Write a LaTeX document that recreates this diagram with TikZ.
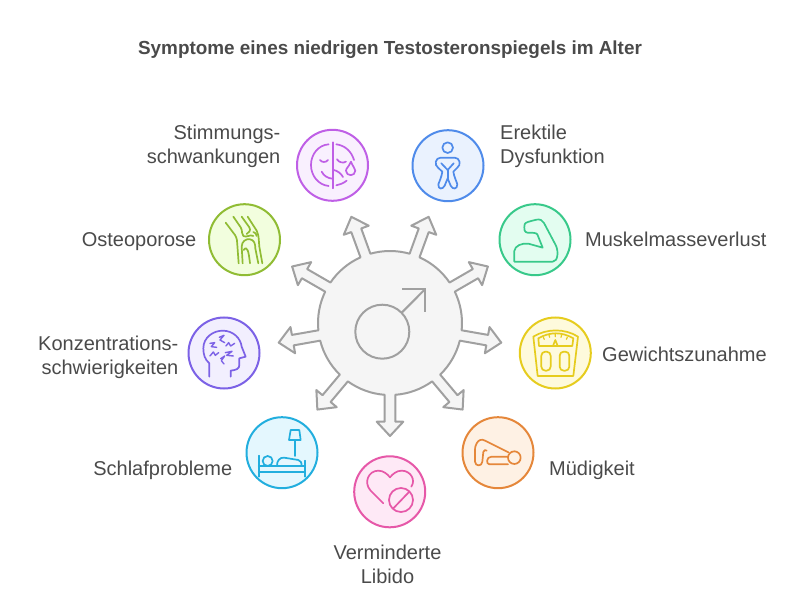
\documentclass[tikz,border=0pt]{standalone}
\usepackage{fontspec}
\setmainfont{Liberation Sans}
\definecolor{txt}{HTML}{4A4A4A}
\definecolor{burstline}{HTML}{A0A0A0}
\definecolor{burstfill}{HTML}{F5F5F5}
\definecolor{cPur}{HTML}{BF5FE6}\definecolor{fPur}{HTML}{F9F0FE}
\definecolor{cBlu}{HTML}{4F8BEA}\definecolor{fBlu}{HTML}{EAF2FE}
\definecolor{cGre}{HTML}{38C98A}\definecolor{fGre}{HTML}{E3FDF0}
\definecolor{cYel}{HTML}{E6CC1E}\definecolor{fYel}{HTML}{FEFADC}
\definecolor{cOra}{HTML}{E5873A}\definecolor{fOra}{HTML}{FEF1E4}
\definecolor{cPin}{HTML}{E658A8}\definecolor{fPin}{HTML}{FEE9F6}
\definecolor{cCya}{HTML}{22AEDE}\definecolor{fCya}{HTML}{E4F7FE}
\definecolor{cVio}{HTML}{7C62E6}\definecolor{fVio}{HTML}{F2EFFE}
\definecolor{cLim}{HTML}{90BC34}\definecolor{fLim}{HTML}{F2FEDE}
\tikzset{
  badge/.style n args={2}{circle,draw=#1,fill=#2,line width=2pt,minimum size=71pt,inner sep=0pt},
  lab/.style={inner sep=0pt,text=txt,font=\fontsize{20}{24}\selectfont},
  ico/.style={line width=1.7pt,line cap=round,line join=round,draw=#1,fill=none},
  burst/.style={draw=burstline,fill=burstfill,line width=2pt,line join=round},
  zoomed/.style 2 args={shift={(#1,#2)},x=0.3333pt,y=-0.3333pt}
}
\begin{document}
\begin{tikzpicture}[x=1pt,y=-1pt]
\useasboundingbox (0,0) rectangle (804,615);
\node[inner sep=0pt,text=txt,font=\fontsize{18.9}{22}\selectfont\bfseries] (title) at (390,49.5) {Symptome eines niedrigen Testosteronspiegels im Alter};

% starburst
\begin{scope}[shift={(390,323)}]
\draw[burst] (85.8:72)
 \foreach \a in {90,130,170,210,250,290,330,370,410} {
   -- (\a-3.07:98.84) -- (\a-7.67:99.6) -- (\a:113) -- (\a+7.67:99.6) -- (\a+3.07:98.84) -- (\a+4.2:72)
   arc[start angle=\a+4.2,end angle=\a+35.8,radius=72]
 } -- cycle;
\end{scope}
% male symbol
\draw[draw=burstline,line width=2pt] (382.3,331.7) circle[radius=27];
\draw[draw=burstline,line width=2pt] (401.7,312.7) -- (425,289.3);
\draw[draw=burstline,line width=2pt,line join=miter] (402.3,289.3) -- (425,289.3) -- (425,311.7);

% badges
\node[badge={cPur}{fPur}] (n1) at (332.5,165.3) {};
\node[badge={cBlu}{fBlu}] (n2) at (448,165.7) {};
\node[badge={cLim}{fLim}] (n3) at (244.5,239.7) {};
\node[badge={cGre}{fGre}] (n4) at (535,239.7) {};
\node[badge={cVio}{fVio}] (n5) at (224,353) {};
\node[badge={cYel}{fYel}] (n6) at (555.3,353) {};
\node[badge={cCya}{fCya}] (n7) at (282,452.7) {};
\node[badge={cOra}{fOra}] (n8) at (498,452.7) {};
\node[badge={cPin}{fPin}] (n9) at (389.7,491.8) {};

% labels
\node[lab,align=right,anchor=east] (l1) at (280.5,146) {Stimmungs-\\schwankungen};
\node[lab,align=left,anchor=west] (l2) at (500,146) {Erektile\\Dysfunktion};
\node[lab,anchor=base east] (l3) at (196.5,246.5) {Osteoporose};
\node[lab,anchor=base west] (l4) at (585,246.5) {Muskelmasseverlust};
\node[lab,align=right,anchor=east] (l5) at (178.5,357) {Konzentrations-\\schwierigkeiten};
\node[lab,anchor=base west] (l6) at (602,361.5) {Gewichtszunahme};
\node[lab,anchor=base east] (l7) at (232.5,475) {Schlafprobleme};
\node[lab,anchor=base west] (l8) at (549,475) {Müdigkeit};
\node[lab,align=center] (l9) at (387.5,564.5) {Verminderte\\Libido};

% mood icon
\begin{scope}[zoomed={200}{110}]
\draw[ico=cPur] (398,97) -- (398,235);
\draw[ico=cPur] (386,103) .. controls (355,105) and (333,133) .. (333,165) .. controls (333,197) and (355,225) .. (386,228);
\draw[ico=cPur] (409,103) .. controls (435,106) and (455,125) .. (462,150);
\draw[ico=cPur] (440,212) .. controls (430,220) and (420,224) .. (409,226);
\draw[ico=cPur] (360,150) .. controls (366,158) and (378,158) .. (384,150);
\draw[ico=cPur] (411,148) .. controls (417,158) and (430,160) .. (438,155);
\draw[ico=cPur] (365,185) .. controls (372,198) and (382,204) .. (396,206);
\draw[ico=cPur] (401,180) .. controls (412,182) and (423,190) .. (429,201);
\draw[ico=cPur] (453,155) .. controls (447,170) and (438,175) .. (438,182) .. controls (438,200) and (466,200) .. (466,182) .. controls (466,175) and (458,170) .. (453,155);
\end{scope}

% knee icon
\begin{scope}[zoomed={200}{110}]
\draw[ico=cLim] (77,338) -- (105,375) .. controls (111,385) and (112,395) .. (112,405) -- (116,460);
\draw[ico=cLim] (100,320) -- (122,352) .. controls (130,365) and (122,372) .. (130,378) .. controls (140,384) and (150,372) .. (160,378);
\draw[ico=cLim] (125,320) -- (148,352) .. controls (154,362) and (146,368) .. (140,372);
\draw[ico=cLim] (143,320) -- (170,362) .. controls (178,378) and (176,395) .. (178,410) -- (187,460);
\draw[ico=cLim] (160,366) .. controls (166,368) and (170,372) .. (170,378);
\draw[ico=cLim] (128,460) -- (125,410) .. controls (125,395) and (138,385) .. (150,388) .. controls (162,390) and (166,400) .. (166,415) -- (175,460);
\draw[ico=cLim] (131,420) .. controls (142,405) and (146,425) .. (150,460);
\end{scope}

% person icon
\begin{scope}[zoomed={400}{115}]
\draw[ico=cBlu] (143,98) circle[radius=16];
\draw[ico=cBlu] (122,128) -- (164,128) .. controls (180,128) and (184,150) .. (172,158) -- (160,170) .. controls (162,185) and (170,200) .. (172,208) .. controls (172,224) and (158,224) .. (152,212) -- (143,190) -- (134,212) .. controls (128,224) and (114,224) .. (115,208) .. controls (118,200) and (125,185) .. (127,170) -- (114,158) .. controls (102,150) and (106,128) .. cycle;
\draw[ico=cBlu] (124,145) -- (143,165) -- (161,145);
\draw[ico=cBlu] (143,165) -- (143,190);
\end{scope}

% muscle icon
\begin{scope}[zoomed={400}{115}]
\draw[ico=cGre] (343,440) -- (343,408) .. controls (345,392) and (365,384) .. (385,386) -- (428,398) -- (412,358) .. controls (408,352) and (395,354) .. (382,353) .. controls (372,352) and (372,340) .. (374,328) .. controls (376,322) and (385,320) .. (410,314) .. controls (420,312) and (428,316) .. (432,324) -- (468,392) .. controls (476,410) and (474,440) .. (458,440) -- cycle;
\end{scope}

% scale icon
\begin{scope}[zoomed={450}{300}]
\draw[ico=cYel] (250,110) .. controls (290,85) and (345,85) .. (384,110) -- (370,228) -- (263,228) -- cycle;
\draw[ico=cYel] (265,115) .. controls (300,95) and (335,95) .. (370,115) -- (367,138) -- (267,138) -- cycle;
\draw[ico=cYel,line width=1.2pt] (280,112) -- (283,118) (297,105) -- (299,112) (316,102) -- (316,110) (335,105) -- (333,112) (352,112) -- (349,118);
\draw[ico=cYel] (310,135) -- (316,120) -- (322,135);
\draw[ico=cYel,rounded corners=4pt] (274,155) rectangle (302,212);
\draw[ico=cYel,rounded corners=4pt] (329,155) rectangle (358,212);
\end{scope}

% tired icon
\begin{scope}[zoomed={450}{300}]
\draw[ico=cOra] (193,473) circle[radius=19];
\draw[ico=cOra] (175,457) -- (105,422) .. controls (95,416) and (85,420) .. (80,430) .. controls (75,438) and (75,445) .. (75,450) -- (75,485) .. controls (76,500) and (96,500) .. (97,485) -- (100,456) .. controls (102,448) and (107,450) .. (110,452);
\draw[ico=cOra] (174,470) -- (125,470) .. controls (108,470) and (108,493) .. (118,493) -- (174,493);
\end{scope}

% bed icon
\begin{scope}[zoomed={180}{300}]
\draw[ico=cCya] (332,390) -- (358,390) -- (362,420) -- (327,420) -- cycle;
\draw[ico=cCya] (345,420) -- (345,468);
\draw[ico=cCya] (236,467) -- (236,530);
\draw[ico=cCya] (374,482) -- (374,530);
\draw[ico=cCya] (236,499) -- (374,499);
\draw[ico=cCya] (236,515) -- (374,515);
\draw[ico=cCya] (263,483) circle[radius=15];
\draw[ico=cCya] (291,498) .. controls (290,482) and (300,472) .. (312,473) -- (355,480) .. controls (362,482) and (365,488) .. (365,498);
\end{scope}

% head icon
\begin{scope}[zoomed={180}{300}]
\draw[ico=cVio] (88,230) -- (88,190) .. controls (75,178) and (70,165) .. (70,145) .. controls (70,112) and (100,92) .. (128,92) .. controls (160,92) and (182,115) .. (185,140) -- (197,170) -- (178,175) -- (178,195) .. controls (178,206) and (170,210) .. (152,212) -- (152,230);
\draw[ico=cVio,line width=1.4pt] (118,112) -- (132,106) -- (120,120) -- (134,128);
\draw[ico=cVio,line width=1.4pt] (90,130) -- (104,128) -- (94,140) -- (110,142);
\draw[ico=cVio,line width=1.4pt] (138,138) -- (146,128) -- (152,138) -- (164,130);
\draw[ico=cVio,line width=1.4pt] (90,168) -- (100,156) -- (106,166) -- (116,158);
\draw[ico=cVio,line width=1.4pt] (136,158) -- (156,154) -- (140,166) -- (160,168);
\draw[ico=cVio,line width=1.4pt] (122,176) -- (134,168) -- (124,182) -- (132,192);
\end{scope}

% heart icon
\begin{scope}[zoomed={340}{440}]
\draw[ico=cPin] (130,190) -- (92,152) .. controls (70,128) and (85,92) .. (115,92) .. controls (130,92) and (142,102) .. (150,112) .. controls (158,102) and (170,92) .. (185,92) .. controls (212,92) and (228,120) .. (214,140);
\draw[ico=cPin] (183,180) circle[radius=36];
\draw[ico=cPin] (160,205) -- (208,155);
\end{scope}
\end{tikzpicture}
\end{document}
